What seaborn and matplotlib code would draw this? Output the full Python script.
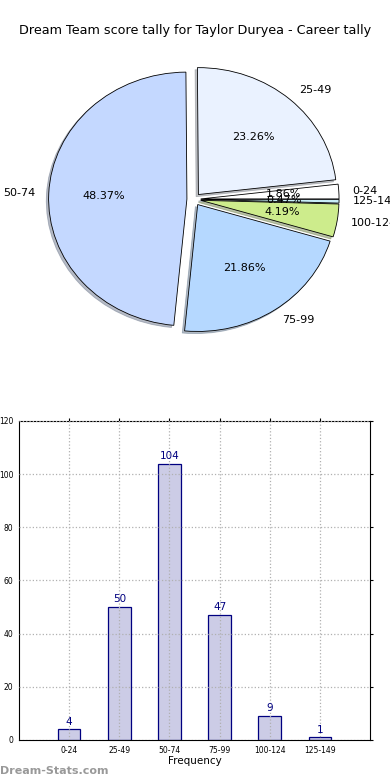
import matplotlib
matplotlib.use("Agg")
import matplotlib.pyplot as plt
import seaborn as sns
import pandas as pd

# score ranges and how often each came up
ranges = ["0-24", "25-49", "50-74", "75-99", "100-124", "125-149"]
counts = [4, 50, 104, 47, 9, 1]
pie_colors = ["#ffffff", "#eaf2ff", "#c4d8ff", "#b5d8ff", "#cdec8c", "#c8eef8"]

df = pd.DataFrame({"Range": ranges, "Count": counts})

sns.set_style("white")
plt.rcParams["font.family"] = ["DejaVu Sans"]
plt.rcParams["text.color"] = "black"
plt.rcParams["xtick.color"] = "black"
plt.rcParams["ytick.color"] = "black"
plt.rcParams["axes.labelcolor"] = "black"

fig = plt.figure(figsize=(3.9, 7.8), dpi=100)
fig.text(0.5, 0.961, "Dream Team score tally for Taylor Duryea - Career tally",
         ha="center", va="center", fontsize=9.2)

# pie (elliptical, like the old matplotlib output)
ax1 = fig.add_axes([0.036, 0.533, 0.922, 0.423])
wedges, texts, autotexts = ax1.pie(
    df["Count"], labels=df["Range"], colors=pie_colors,
    explode=[0.05] * len(ranges), autopct="%.2f%%",
    shadow={"ox": -0.012, "oy": -0.012, "shade": 0.45},
    startangle=0, labeldistance=1.1, pctdistance=0.6,
    wedgeprops={"edgecolor": "black", "linewidth": 0.6},
    textprops={"fontsize": 8})
ax1.set_aspect("auto")
ax1.set_xlim(-1.3, 1.3)
ax1.set_ylim(-1.3, 1.3)
ax1.axis("off")

# bar chart
ax2 = fig.add_axes([0.0487, 0.0513, 0.9, 0.409])
sns.barplot(data=df, x="Range", y="Count", ax=ax2, width=0.45,
            color="#ccccE6", edgecolor="#000080", linewidth=0.9, saturation=1)
for i, v in enumerate(counts):
    ax2.text(i, v + 1, str(v), ha="center", va="bottom", fontsize=7.5, color="#000080")
ax2.set_xlim(-1, 6)
ax2.set_ylim(0, 120)
ax2.set_yticks(range(0, 121, 20))
ax2.grid(True, linestyle=":", color="#b0b0b0", linewidth=0.9)
ax2.set_axisbelow(False)
for b in ax2.patches:
    b.set_zorder(1)
ax2.tick_params(labelsize=5.5, length=2, direction="out", top=True, right=True, pad=2)
ax2.set_xlabel("Frequency", fontsize=7.5, labelpad=1)
ax2.set_ylabel("")
for s in ax2.spines.values():
    s.set_color("black")
    s.set_linewidth(0.8)

fig.text(0.0, 0.012, "Dream-Stats.com", ha="left", va="center",
         fontsize=8, color="#999999", fontweight="bold")

fig.savefig("out.png", dpi=100)
